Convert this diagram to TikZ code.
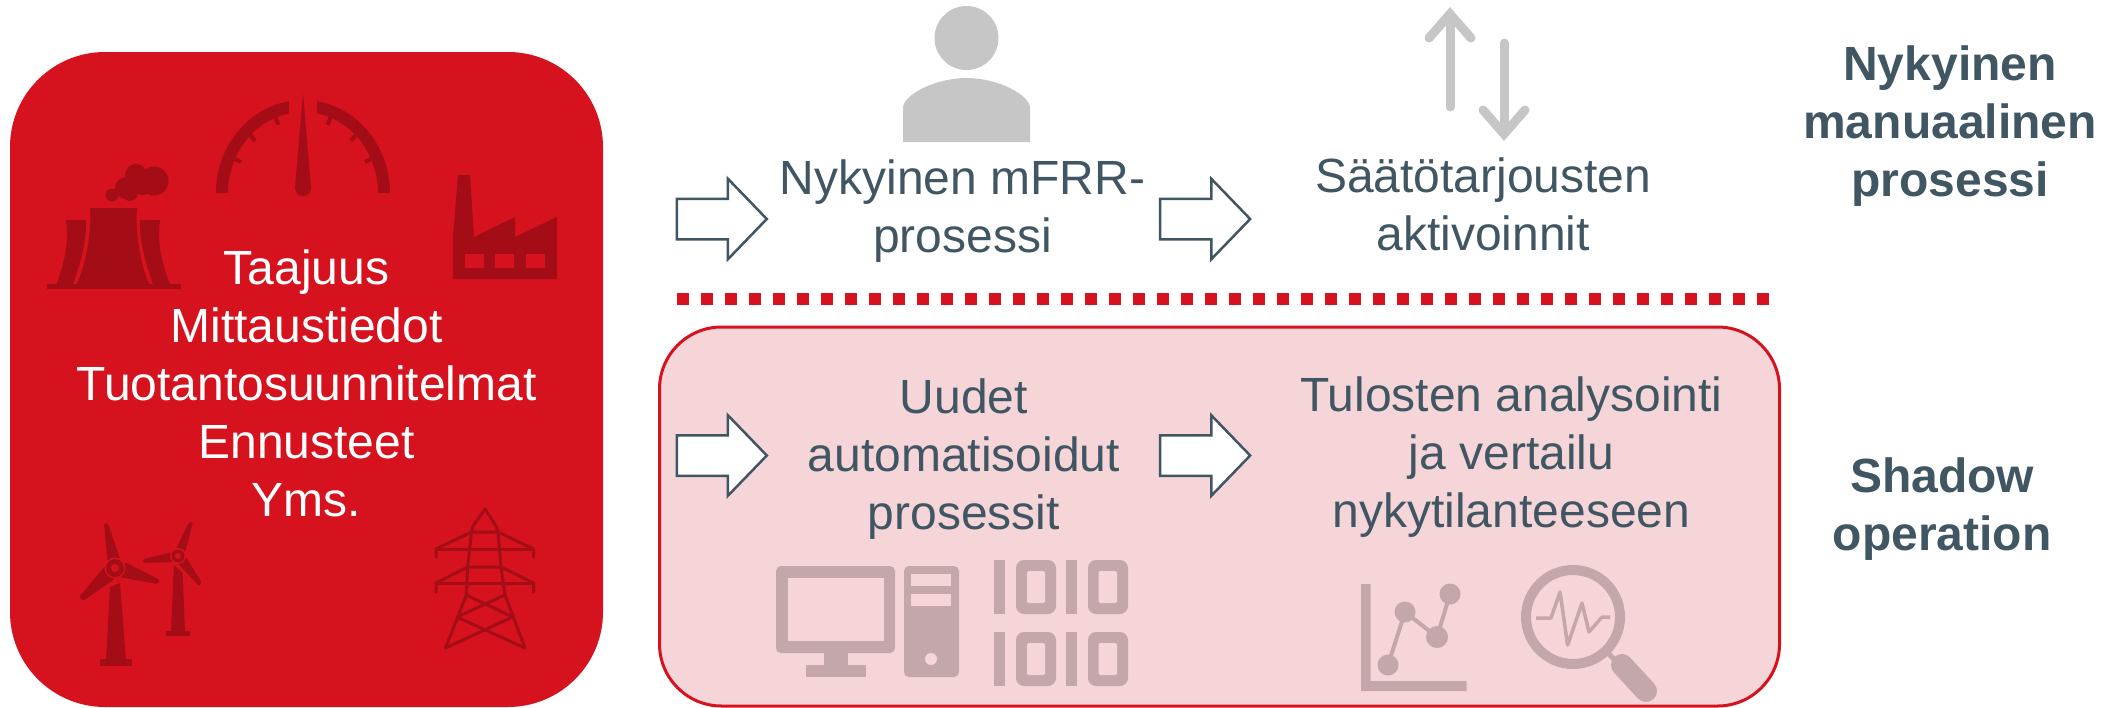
\documentclass[tikz,border=0pt]{standalone}
\usepackage{fontspec}
\setmainfont{Liberation Sans}
\usepackage{tikz}
\usetikzlibrary{shapes,arrows,positioning}

\definecolor{boxred}{HTML}{D6121E}
\definecolor{darkred}{HTML}{A50D16}
\definecolor{boxpink}{HTML}{F6D5D9}
\definecolor{mutedicon}{HTML}{C4A7AA}
\definecolor{slate}{HTML}{405662}
\definecolor{lightgrey}{HTML}{C6C6C6}

\begin{document}
\begin{tikzpicture}[
        x=1pt,
        y=-1pt,
        font=\fontsize{48}{58}\selectfont,
        data/.style={
            rectangle,
            fill=boxred,
            rounded corners=95pt,
            minimum width=593pt,
            minimum height=655pt
        },
        datatext/.style={
            text=white,
            align=center,
            inner sep=0pt
        },
        shadow/.style={
            rectangle,
            draw=boxred,
            line width=3pt,
            fill=boxpink,
            rounded corners=62pt,
            minimum width=1120pt,
            minimum height=379pt
        },
        stage/.style={
            text=slate,
            align=center,
            inner sep=0pt,
            outer sep=0pt
        },
        rowlabel/.style={
            stage,
            font=\fontsize{48}{58}\selectfont\bfseries
        },
        flow/.style={
            single arrow,
            draw=slate,
            line width=2.5pt,
            fill=white,
            minimum height=90pt,
            single arrow head extend=20pt,
            single arrow tip angle=92,
            inner xsep=0pt,
            inner ysep=19pt,
            outer sep=0pt
        },
        divider/.style={
            draw=boxred,
            line width=12pt,
            dash pattern=on 12pt off 12pt
        },
        icondark/.style={
            fill=darkred
        },
        iconhole/.style={
            fill=boxred
        },
        iconline/.style={
            draw=darkred,
            line width=3pt,
            line cap=round,
            line join=round
        },
        iconmuted/.style={
            fill=mutedicon
        },
        iconmutedline/.style={
            draw=mutedicon,
            line width=4pt
        },
        iconcut/.style={
            fill=boxpink
        },
        updown/.style={
            draw=lightgrey,
            line width=9pt,
            line cap=round,
            line join=miter
        }
    ]
    \useasboundingbox (0,0) rectangle (2108,707);

    % Panels
    \node[data] (inputs) at (306.5,379.5) {};
    \node[datatext, yshift=-4pt] (inputs_text) at (inputs.center) {Taajuus\\Mittaustiedot\\Tuotantosuunnitelmat\\Ennusteet\\Yms.};
    \node[shadow] (shadow_box) at (1219.5,516.5) {};

    % Current process row
    \node[flow] (arrow_in) at (712,219) {};
    \node[stage, right=13pt of arrow_in.east, yshift=8pt] (mfrr) {Nykyinen mFRR-\\prosessi};
    \node[flow, right=15pt of mfrr.east, yshift=-8pt] (arrow_mfrr) {};
    \node[stage, right=65pt of arrow_mfrr.east, yshift=14.5pt] (bids) {Säätötarjousten\\aktivoinnit};

    % Shadow row
    \node[flow, below=196pt of arrow_in] (arrow_new) {};
    \node[stage, right=41pt of arrow_new.east, yshift=-3.5pt] (auto) {Uudet\\automatisoidut\\prosessit};
    \node[flow, below=196pt of arrow_mfrr] (arrow_auto) {};
    \node[stage, right=50pt of arrow_auto.east, yshift=-2pt] (results) {Tulosten analysointi\\ja vertailu\\nykytilanteeseen};

    % Row labels
    \node[rowlabel] (label_now) at (1950,126) {Nykyinen\\manuaalinen\\prosessi};
    \node[rowlabel] (label_shadow) at (1942,509) {Shadow\\operation};

    % Divider between rows
    \coordinate (div_left) at (677,299);
    \coordinate (div_right) at (1770,299);
    \draw[divider] (div_left) -- (div_right);

    % Cooling towers
    \fill[icondark] (47,284) rectangle (181,289);
    \fill[icondark] (90,208) -- (137,208) .. controls (135,235) and (141,265) .. (149,284) -- (77,284) .. controls (85,265) and (92,235) .. (90,208) -- cycle;
    \fill[icondark] (66,220) -- (86,220) .. controls (87,240) and (80,265) .. (73,284) -- (56.5,284) .. controls (65,262) and (69,240) .. (66,220) -- cycle;
    \fill[icondark] (160,220) -- (140,220) .. controls (139,240) and (146,265) .. (153,284) -- (170,284) .. controls (161,262) and (157,240) .. (160,220) -- cycle;
    \fill[icondark] (136,175) circle[radius=11pt];
    \fill[icondark] (154,181) circle[radius=14.5pt];
    \fill[icondark] (126,188) circle[radius=11pt];
    \fill[icondark] (112,195) circle[radius=6.5pt];
    \fill[icondark] (130,193) circle[radius=8pt];
    \fill[icondark] (143,184) circle[radius=11pt];

    % Gauge
    \fill[icondark] (216,193) arc[start angle=180, end angle=260.7, x radius=87, y radius=93] -- (289,113.4) arc[start angle=259.2, end angle=180, x radius=75, y radius=81] -- cycle;
    \fill[icondark] (390,193) arc[start angle=0, end angle=-80.7, x radius=87, y radius=93] -- (317,113.4) arc[start angle=-79.2, end angle=0, x radius=75, y radius=81] -- cycle;
    \fill[icondark] (303,93) -- (311,188) arc[start angle=0, end angle=180, radius=8] -- cycle;
    \draw[darkred, line width=4pt] (275,116) -- (278.3,125);
    \draw[darkred, line width=4pt] (248,132) -- (255,141);
    \draw[darkred, line width=4pt] (232,157.5) -- (241,162);
    \draw[darkred, line width=4pt] (331,116) -- (327.7,125);
    \draw[darkred, line width=4pt] (358,132) -- (351,141);
    \draw[darkred, line width=4pt] (374,157.5) -- (365,162);

    % Factory
    \fill[icondark] (458,175) -- (470,175) -- (474,237) -- (515,217) -- (515,237) -- (557,217) -- (557,279) -- (453,279) -- (453,237) -- cycle;
    \fill[iconhole] (465,254) rectangle (484,268);
    \fill[iconhole] (495,254) rectangle (514,268);
    \fill[iconhole] (526,254) rectangle (545,268);

    % Large wind turbine
    \fill[icondark] (110,587) -- (120,583) -- (126,659) -- (106,659) -- cycle;
    \fill[icondark] (100,659) rectangle (132,666);
    \fill[icondark, rounded corners=2pt] (104,523) -- (108,523) -- (120,559) -- (107.5,562) -- cycle;
    \fill[icondark, rounded corners=2pt] (125,562) -- (160,580) -- (158,584) -- (118.6,577) -- cycle;
    \fill[icondark, rounded corners=2pt] (79,597) -- (105,566) -- (114.6,579) -- (83,601) -- cycle;
    \fill[iconhole] (115,568) circle[radius=10.5pt];
    \fill[icondark] (115,568) circle[radius=9pt];
    \fill[iconhole] (115,568) circle[radius=4pt];

    % Small wind turbine
    \fill[icondark] (174,565) -- (182.6,573) -- (185,631) -- (171,631) -- cycle;
    \fill[icondark] (166,631) rectangle (190,636);
    \fill[icondark, rounded corners=2pt] (189,522) -- (193,522) -- (185,553) -- (176,549) -- cycle;
    \fill[icondark, rounded corners=2pt] (143,559) -- (173,552) -- (174,562) -- (143,563) -- cycle;
    \fill[icondark, rounded corners=2pt] (177.5,563) -- (186,557) -- (202,583) -- (199,586) -- cycle;
    \fill[iconhole] (178,556) circle[radius=8pt];
    \fill[icondark] (178,556) circle[radius=6.5pt];
    \fill[iconhole] (178,556) circle[radius=3pt];

    % Pylon
    \draw[iconline] (471.5,532) -- (473,526) -- (485,509) -- (496,526) -- (498,532);
    \draw[iconline] (436,557) -- (436,549) -- (471.5,532) -- (498,532) -- (533.5,549) -- (533.5,557);
    \draw[iconline] (436,549) -- (533.5,549);
    \draw[iconline] (436,592) -- (436,583) -- (467.6,567) -- (501,567) -- (533.5,583) -- (533.5,592);
    \draw[iconline] (436,583) -- (533.5,583);
    \draw[iconline] (445.5,648) -- (466.4,595) -- (467.6,567) -- (471.5,532);
    \draw[iconline] (525,648) -- (505,595) -- (501,567) -- (498,532);
    \draw[iconline] (466.4,595) -- (512.6,617) -- (445.5,648);
    \draw[iconline] (505,595) -- (457,617) -- (525,648);

    % Person
    \fill[lightgrey] (966.5,38) circle[radius=32pt];
    \fill[lightgrey] (903,142) -- (903,108) .. controls (903,95) and (935,78) .. (966.5,78) .. controls (998,78) and (1030,95) .. (1030,108) -- (1030,142) -- cycle;

    % Up and down
    \draw[updown] (1450,107) -- (1450,14);
    \draw[updown] (1429,38) -- (1450,14) -- (1471,38);
    \draw[updown] (1504,43) -- (1504,134);
    \draw[updown] (1483,110) -- (1504,134) -- (1525,110);

    % Computer
    \fill[iconmuted, rounded corners=5pt] (776,566) rectangle (895,653);
    \fill[iconcut] (788,578) rectangle (884,641);
    \fill[iconmuted] (824,653) rectangle (848,665);
    \fill[iconmuted] (806,665) rectangle (866,677);
    \fill[iconmuted, rounded corners=5pt] (904,566) rectangle (959,677);
    \fill[iconcut] (911,574) rectangle (951,586);
    \fill[iconcut] (911,594) rectangle (951,606);
    \fill[iconcut] (931,659) circle[radius=6pt];

    % Binary digits
    \fill[iconmuted] (994,560) rectangle (1005,614);
    \fill[iconmuted] (1066,560) rectangle (1077,614);
    \fill[iconmuted] (994,632) rectangle (1005,686);
    \fill[iconmuted] (1066,632) rectangle (1077,686);
    \fill[iconmuted, rounded corners=8pt] (1016,560) rectangle (1056,614);
    \fill[iconmuted, rounded corners=8pt] (1088,560) rectangle (1128,614);
    \fill[iconmuted, rounded corners=8pt] (1016,632) rectangle (1056,686);
    \fill[iconmuted, rounded corners=8pt] (1088,632) rectangle (1128,686);
    \fill[iconcut, rounded corners=2pt] (1027,571) rectangle (1045,603);
    \fill[iconcut, rounded corners=2pt] (1098.5,571) rectangle (1117,603);
    \fill[iconcut, rounded corners=2pt] (1027,643) rectangle (1045,675);
    \fill[iconcut, rounded corners=2pt] (1098.5,643) rectangle (1117,675);

    % Chart
    \fill[iconmuted] (1361,584) -- (1370.5,584) -- (1370.5,681) -- (1466.5,681) -- (1466.5,691) -- (1361,691) -- cycle;
    \draw[iconmutedline] (1388,665) -- (1405,612) -- (1437,637) -- (1450,594);
    \fill[iconmuted] (1388,665) circle[radius=10.5pt];
    \fill[iconmuted] (1405,612) circle[radius=10.5pt];
    \fill[iconmuted] (1437,637) circle[radius=11pt];
    \fill[iconmuted] (1450,594) circle[radius=10.5pt];

    % Magnifier
    \draw[mutedicon, line width=10pt] (1573,617) circle[radius=47pt];
    \draw[mutedicon, line width=5pt] (1606,651) -- (1622,667);
    \draw[mutedicon, line width=22pt, line cap=round] (1622,665) -- (1646,691);
    \draw[mutedicon, line width=3.5pt, line join=round] (1536,618) -- (1551,618) -- (1560,592) -- (1567.6,645) -- (1582,603) -- (1589,632) -- (1602,617) -- (1610,617);
\end{tikzpicture}
\end{document}
